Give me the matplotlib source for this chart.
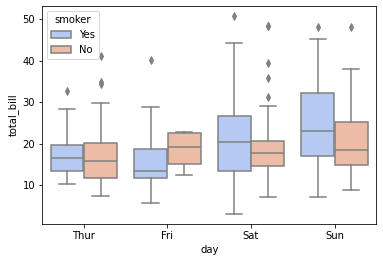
import matplotlib
matplotlib.use("Agg")
import matplotlib.pyplot as plt
import seaborn as sns
from matplotlib.patches import Patch

days = ["Thur", "Fri", "Sat", "Sun"]
smoker = ["Yes", "No"]

# box statistics per smoker group, ordered by day
med = {"Yes": [16.47, 13.42, 20.39, 23.10], "No": [15.95, 19.24, 17.82, 18.43]}
q1 = {"Yes": [13.51, 11.69, 13.42, 17.00], "No": [11.69, 15.10, 14.73, 14.99]}
q3 = {"Yes": [19.81, 18.66, 26.80, 32.30], "No": [20.27, 22.50, 20.65, 25.20]}
whislo = {"Yes": [10.34, 5.75, 3.07, 7.25], "No": [7.51, 12.46, 7.25, 8.77]}
whishi = {"Yes": [28.44, 28.97, 44.30, 45.35], "No": [29.80, 22.75, 29.03, 38.07]}
fliers = {
    "Yes": [[32.68, 43.11], [40.17], [50.81], [48.17]],
    "No": [[34.30, 34.83, 41.19], [], [31.27, 35.83, 39.42, 48.27, 48.33], [48.17]],
}

pal = sns.color_palette("coolwarm", 2, desat=0.75)
colors = {"Yes": pal[0], "No": pal[1]}
gray = "#808080"

fig = plt.figure(figsize=(383 / 72, 262 / 72), dpi=72)
ax = fig.add_axes([0.1097, 0.145, 0.873, 0.832])

offsets = {"Yes": -0.2, "No": 0.2}
for s in smoker:
    stats = []
    for i in range(len(days)):
        stats.append(dict(med=med[s][i], q1=q1[s][i], q3=q3[s][i],
                          whislo=whislo[s][i], whishi=whishi[s][i],
                          fliers=fliers[s][i]))
    pos = [i + offsets[s] for i in range(len(days))]
    bp = ax.bxp(stats, positions=pos, widths=0.392, patch_artist=True,
                showfliers=True, manage_ticks=False,
                boxprops=dict(facecolor=colors[s], edgecolor=gray, linewidth=1.5),
                medianprops=dict(color=gray, linewidth=1.5),
                whiskerprops=dict(color=gray, linewidth=1.5),
                capprops=dict(color=gray, linewidth=1.5),
                flierprops=dict(marker="d", markerfacecolor=gray, markeredgecolor=gray,
                                markersize=5, linestyle="none"))

ax.set_xticks(range(len(days)))
ax.set_xticklabels(days)
ax.set_xlim(-0.5, 3.5)
ax.set_ylim(0.68, 53.2)
ax.set_xlabel("day")
ax.set_ylabel("total_bill")

handles = [Patch(facecolor=colors[s], edgecolor=gray, linewidth=1.5, label=s) for s in smoker]
ax.legend(handles=handles, title="smoker", loc="upper left")

fig.savefig("out.png", dpi=72)
